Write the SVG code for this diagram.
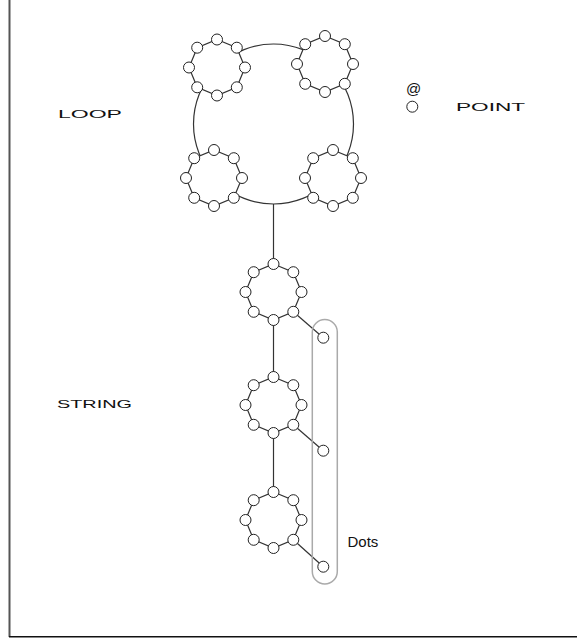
<svg xmlns="http://www.w3.org/2000/svg" xmlns:xlink="http://www.w3.org/1999/xlink" width="577" height="640" viewBox="0 0 577 640">
  <style>
    .edge { stroke: #333; stroke-width: 1.2; fill: none; }
    .pt { fill: #fff; stroke: #222; stroke-width: 1; }
    .poly { fill: #fff; stroke: #333; stroke-width: 1.2; }
    .caps { font-family: "Liberation Sans", Arial, sans-serif; font-size: 11.5px; fill: #111; }
    .lbl { font-family: "Liberation Sans", Arial, sans-serif; font-size: 15px; fill: #111; }
  </style>
  <defs>
    <!-- eight points joined in an octagon -->
    <g id="ring">
      <polygon class="poly" points="0,-28 19.8,-19.8 28,0 19.8,19.8 0,28 -19.8,19.8 -28,0 -19.8,-19.8"/>
      <circle class="pt" cx="0" cy="-28" r="5.5"/>
      <circle class="pt" cx="19.8" cy="-19.8" r="5.5"/>
      <circle class="pt" cx="28" cy="0" r="5.5"/>
      <circle class="pt" cx="19.8" cy="19.8" r="5.5"/>
      <circle class="pt" cx="0" cy="28" r="5.5"/>
      <circle class="pt" cx="-19.8" cy="19.8" r="5.5"/>
      <circle class="pt" cx="-28" cy="0" r="5.5"/>
      <circle class="pt" cx="-19.8" cy="-19.8" r="5.5"/>
    </g>
  </defs>

  <rect width="577" height="640" fill="#fff"/>
  <!-- frame -->
  <line x1="9.5" y1="0" x2="9.5" y2="637" stroke="#555" stroke-width="2"/>
  <line x1="9" y1="636.8" x2="577" y2="636.8" stroke="#111" stroke-width="1.6"/>

  <!-- connectors -->
  <g id="connectors">
    <line class="edge" x1="273.5" y1="204" x2="273.5" y2="264"/>
    <line class="edge" x1="273.5" y1="320" x2="273.5" y2="377"/>
    <line class="edge" x1="273.5" y1="433" x2="273.5" y2="492"/>
    <line class="edge" x1="293.3" y1="311.8" x2="323.3" y2="337.7"/>
    <line class="edge" x1="293.3" y1="424.8" x2="323.3" y2="450.7"/>
    <line class="edge" x1="293.3" y1="539.8" x2="323.3" y2="566.7"/>
  </g>

  <!-- loop -->
  <g id="loop">
    <circle class="edge" cx="273.5" cy="124" r="80"/>
    <use id="loop-ring-tl" xlink:href="#ring" href="#ring" transform="translate(217,67.5)"/>
    <use id="loop-ring-tr" xlink:href="#ring" href="#ring" transform="translate(325,64)"/>
    <use id="loop-ring-bl" xlink:href="#ring" href="#ring" transform="translate(214,178)"/>
    <use id="loop-ring-br" xlink:href="#ring" href="#ring" transform="translate(333,178)"/>
  </g>

  <!-- string -->
  <g id="string-ring-1"><use xlink:href="#ring" href="#ring" transform="translate(273.5,292)"/></g>
  <g id="string-ring-2"><use xlink:href="#ring" href="#ring" transform="translate(273.5,405)"/></g>
  <g id="string-ring-3"><use xlink:href="#ring" href="#ring" transform="translate(273.5,520)"/></g>

  <!-- dots -->
  <g id="dots">
    <rect x="312.3" y="319.5" width="25" height="264.5" rx="12.5" fill="none" stroke="#aaa" stroke-width="1.5"/>
    <circle class="pt" cx="323.3" cy="337.7" r="5.5"/>
    <circle class="pt" cx="323.3" cy="450.7" r="5.5"/>
    <circle class="pt" cx="323.3" cy="566.7" r="5.5"/>
    <text class="lbl" x="347.5" y="547">Dots</text>
  </g>

  <!-- legend -->
  <g id="point-legend">
    <text class="lbl" x="406" y="93.5" font-size="13">@</text>
    <circle class="pt" cx="412.3" cy="106.7" r="5.5"/>
    <text class="caps" x="456" y="111" textLength="69" lengthAdjust="spacingAndGlyphs">POINT</text>
  </g>

  <g id="labels">
    <text class="caps" x="58" y="118" textLength="64" lengthAdjust="spacingAndGlyphs">LOOP</text>
    <text class="caps" x="57" y="408.3" textLength="75" lengthAdjust="spacingAndGlyphs">STRING</text>
  </g>
</svg>
